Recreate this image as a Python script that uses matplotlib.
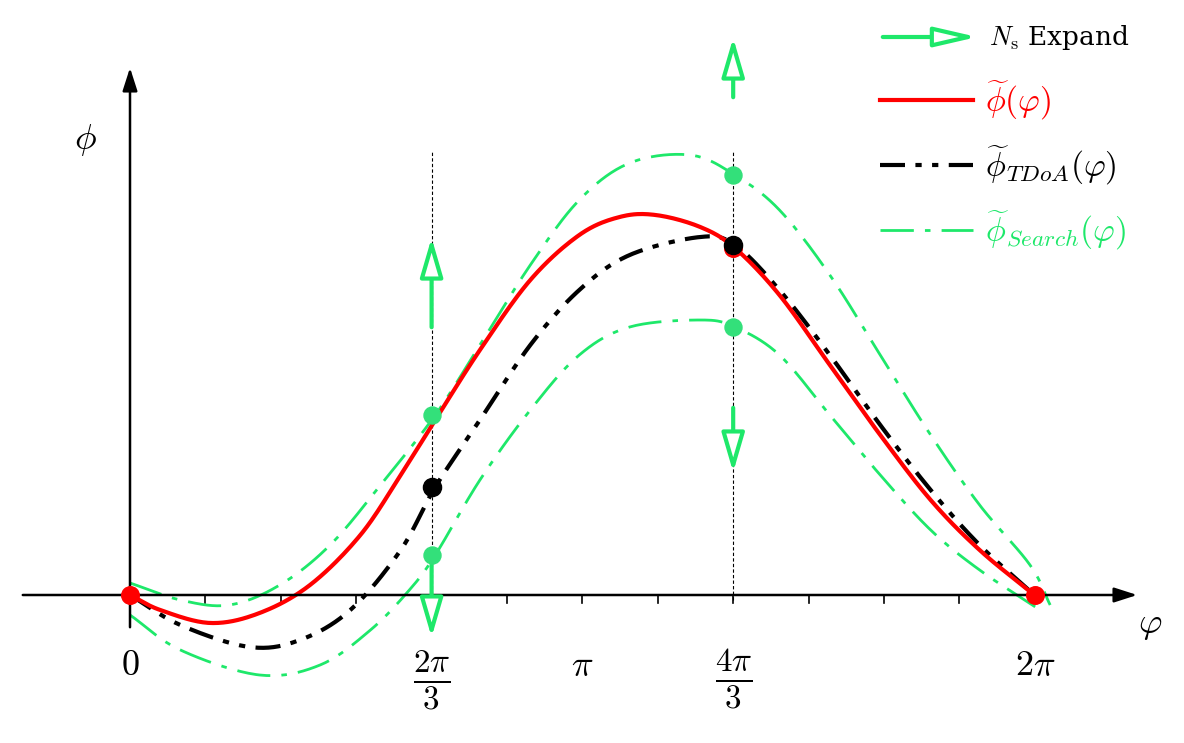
import numpy as np
import matplotlib
matplotlib.use("Agg")
import matplotlib.pyplot as plt

plt.rcParams['mathtext.fontset'] = 'cm'
plt.rcParams['font.family'] = ['DejaVu Serif']

PI = np.pi
# curves: x in radians, y in arbitrary units
red_x = [0, 0.21, 0.56, 0.90, 1.25, 1.60, 1.88, 2.12, 2.43, 2.78, 3.12, 3.40, 3.65, 3.96, 4.20, 4.51, 4.86, 5.21, 5.56, 5.90, 6.28]
red_y = [0, -15, -28, -18, 10, 60, 120, 175, 245, 315, 360, 378, 380, 368, 347, 300, 230, 160, 95, 45, 0]
blk_x = [0, 0.35, 0.83, 1.18, 1.53, 1.88, 2.12, 2.43, 2.78, 3.12, 3.47, 3.96, 4.20, 4.51, 4.86, 5.21, 5.56, 5.90, 6.28]
blk_y = [0, -30, -52, -45, -15, 45, 108, 175, 250, 305, 340, 358, 350, 305, 240, 170, 105, 50, 0]
gu_x = [0, 0.35, 0.69, 1.04, 1.39, 1.74, 2.12, 2.43, 2.78, 3.12, 3.47, 3.89, 4.20, 4.51, 4.86, 5.21, 5.56, 5.90, 6.25, 6.39]
gu_y = [12, -5, -10, 10, 50, 110, 180, 250, 330, 395, 432, 440, 420, 385, 320, 240, 160, 90, 30, -10]
gl_x = [0, 0.35, 0.90, 1.32, 1.67, 1.94, 2.12, 2.43, 2.78, 3.12, 3.47, 3.96, 4.20, 4.51, 4.86, 5.21, 5.56, 5.90, 6.32]
gl_y = [-20, -55, -80, -70, -35, 5, 40, 115, 185, 240, 268, 275, 268, 240, 180, 120, 65, 25, -15]

tick_pos = [0, 2*PI/3, PI, 4*PI/3, 2*PI]
tick_lab = ['$0$', r'$\frac{2\pi}{3}$', r'$\pi$', r'$\frac{4\pi}{3}$', r'$2\pi$']

GREEN = '#1ee86a'
GDOT = '#33e07a'


def smooth(xs, ys, n=20):
    """Catmull-Rom rendering through the read points."""
    p = np.column_stack([xs, ys]).astype(float)
    p = np.vstack([2*p[0]-p[1], p, 2*p[-1]-p[-2]])
    out = []
    t = np.linspace(0, 1, n, endpoint=False)[:, None]
    for i in range(1, len(p)-2):
        p0, p1, p2, p3 = p[i-1], p[i], p[i+1], p[i+2]
        out.append(0.5*((2*p1) + (-p0+p2)*t + (2*p0-5*p1+4*p2-p3)*t**2 + (-p0+3*p1-3*p2+p3)*t**3))
    out.append(p[-2][None, :])
    out = np.vstack(out)
    return out[:, 0], out[:, 1]


fig = plt.figure(figsize=(11.84, 7.43), dpi=100)
ax = fig.add_axes([0, 0, 1, 1])
ax.set_xlim(-130/144, (1184-130)/144)
ax.set_ylim(-148, 595)
ax.axis('off')

ax.annotate('', xy=(1140/144 - 130/144, 0), xytext=(-110/144, 0),
            arrowprops=dict(arrowstyle='-|>,head_length=1.4,head_width=0.45', color='black', lw=1.8))
ax.annotate('', xy=(0, 530), xytext=(0, -35),
            arrowprops=dict(arrowstyle='-|>,head_length=1.4,head_width=0.45', color='black', lw=1.8))
for k in range(1, 13):
    ax.plot([k*PI/6]*2, [0, -8], color='black', lw=1.2)

for t in [2*PI/3, 4*PI/3]:
    ax.plot([t, t], [-5, 445], color='black', lw=0.8, ls=(0, (3, 2)))

for xs, ys in [(gu_x, gu_y), (gl_x, gl_y)]:
    ax.plot(*smooth(xs, ys), color=GREEN, lw=2, ls=(0, (12, 4, 2, 4)))
ax.plot(*smooth(blk_x, blk_y), color='black', lw=3, ls=(0, (6, 2.5, 1.5, 2.5, 1.5, 2.5)))
ax.plot(*smooth(red_x, red_y), color='red', lw=3)

ax.scatter([2*PI/3, 2*PI/3, 4*PI/3, 4*PI/3], [180, 40, 420, 268], s=150, color=GDOT, zorder=5)
ax.scatter([0, 2*PI, 4*PI/3], [0, 0, 347], s=160, color='red', zorder=5)
ax.scatter([2*PI/3, 4*PI/3], [108, 350], s=170, color='black', zorder=6)

arr = dict(arrowstyle='-|>,head_length=2.4,head_width=0.7', color=GREEN, lw=3, fc='white')
for (x, y0, y1) in [(2*PI/3, 265, 360), (2*PI/3, 40, -45), (4*PI/3, 495, 560), (4*PI/3, 190, 120)]:
    ax.annotate('', xy=(x, y1), xytext=(x, y0), arrowprops=arr)

for p, l in zip(tick_pos, tick_lab):
    frac = 'frac' in l
    ax.text(p, -85 if frac else -70, l, ha='center', va='center', fontsize=34 if frac else 26)
ax.text(-45/144, 455, r'$\phi$', fontsize=26, ha='center', va='center')
ax.text(1150/144 - 130/144, -30, r'$\varphi$', fontsize=26, ha='center', va='center')

x0, x1, xt = (880-130)/144, (980-130)/144, (985-130)/144
ax.annotate('', xy=(x1, 558), xytext=(x0, 558),
            arrowprops=dict(arrowstyle='-|>,head_length=2.6,head_width=0.6', color=GREEN, lw=3, fc='white'))
ax.text(xt+0.03, 558, r'$N_{\rm s}$ Expand', fontsize=19, va='center')
ax.plot([x0, x1-0.05], [495, 495], color='red', lw=3)
ax.text(xt, 495, r'$\widetilde{\phi}(\varphi)$', fontsize=24, va='center', color='red')
ax.plot([x0, x1-0.05], [430, 430], color='black', lw=3, ls=(0, (6, 2.5, 1.5, 2.5, 1.5, 2.5)))
ax.text(xt, 430, r'$\widetilde{\phi}_{TDoA}(\varphi)$', fontsize=24, va='center')
ax.plot([x0, x1-0.05], [365, 365], color=GREEN, lw=2, ls=(0, (12, 4, 2, 4)))
ax.text(xt, 365, r'$\widetilde{\phi}_{Search}(\varphi)$', fontsize=24, va='center', color=GREEN)

fig.savefig('out.png', dpi=100)
